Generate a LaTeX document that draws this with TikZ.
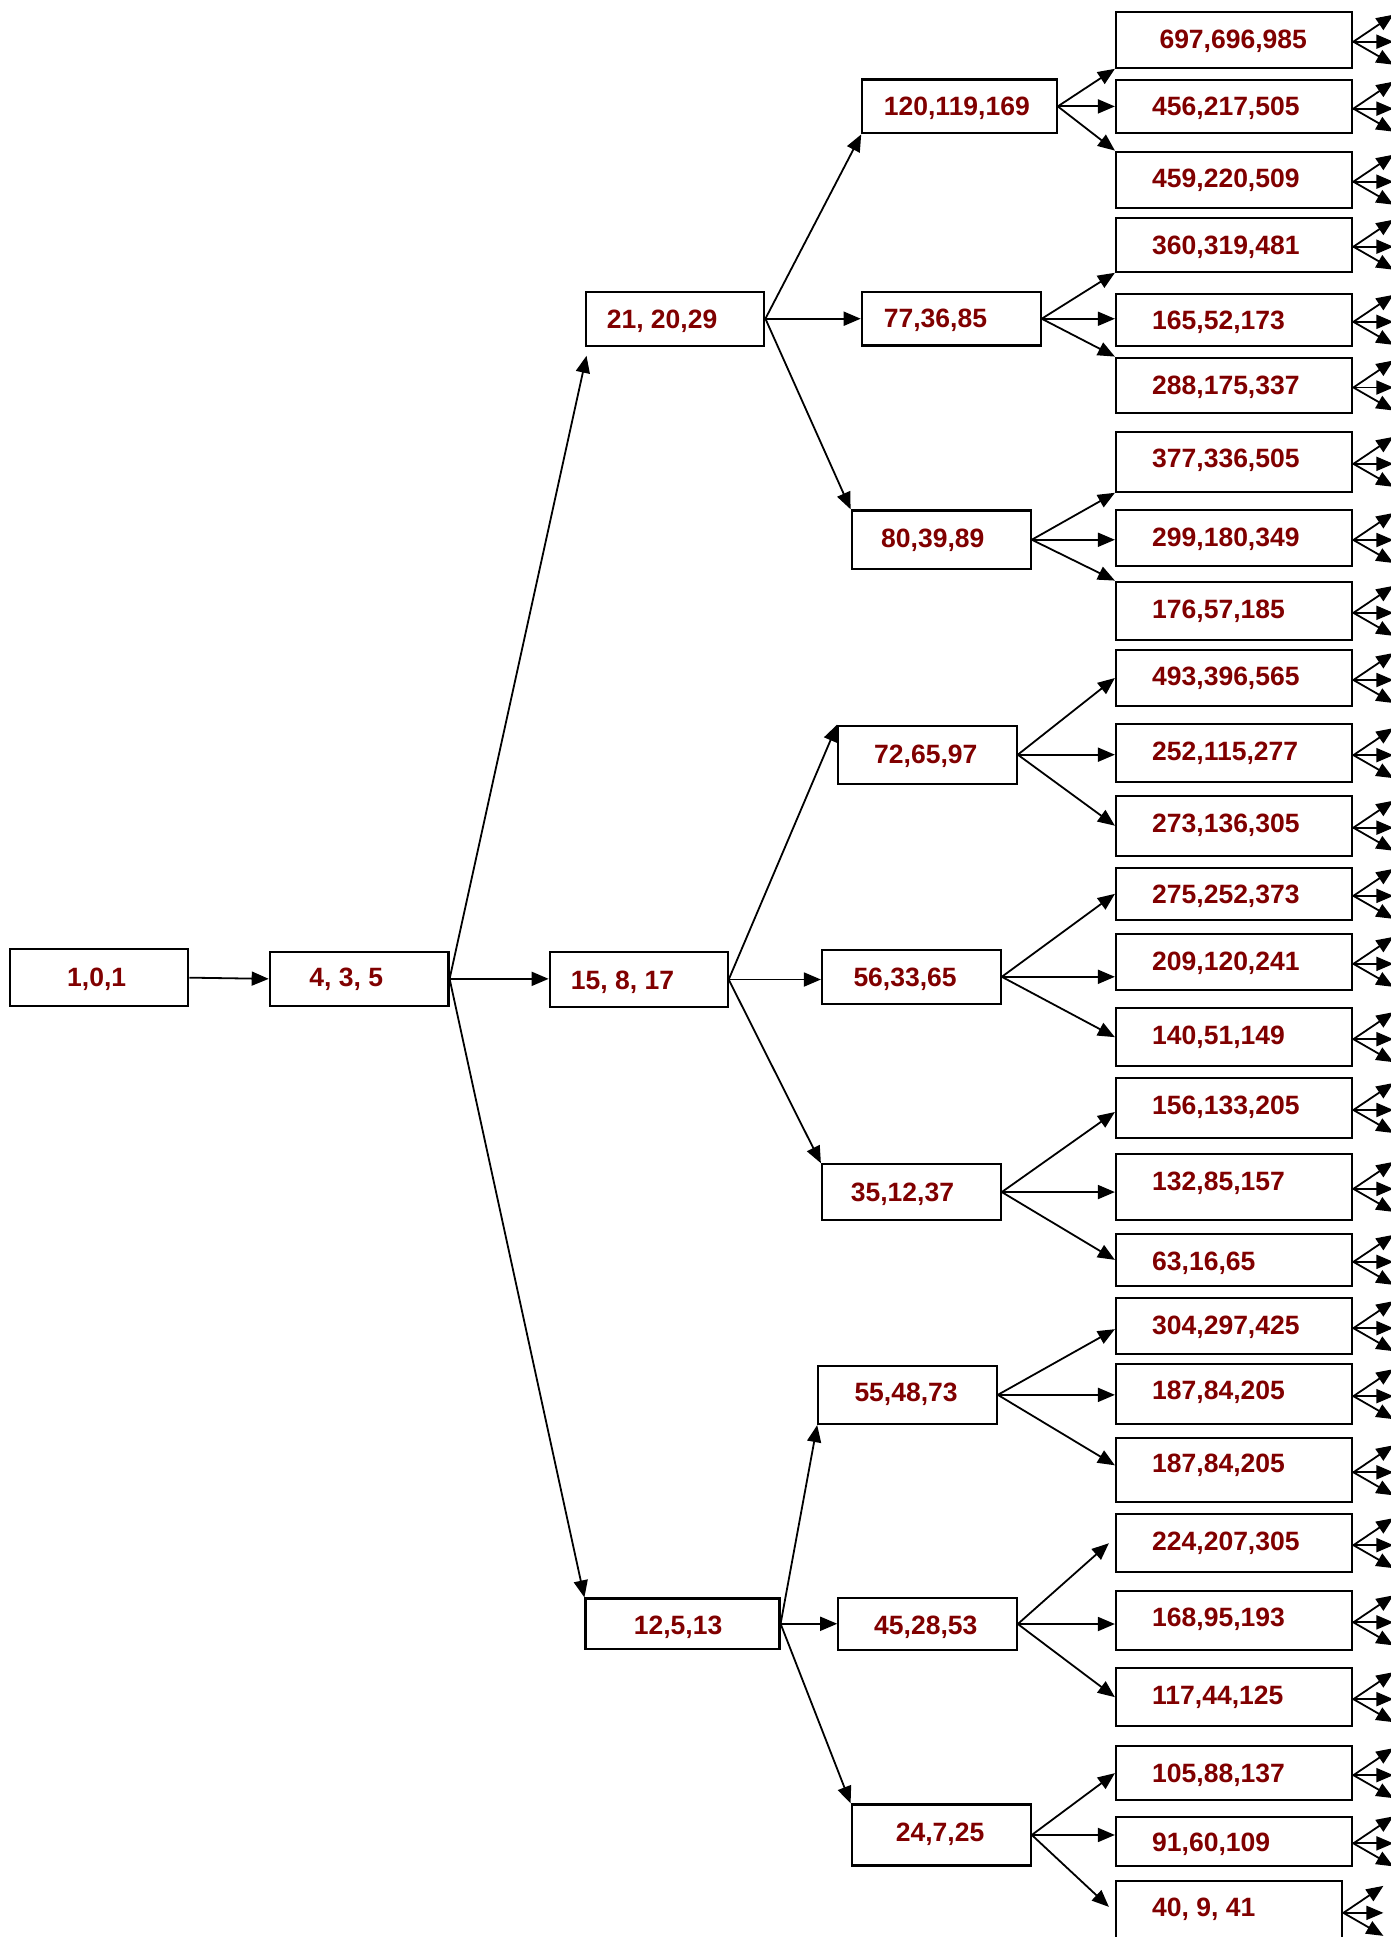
\documentclass[tikz,border=0pt]{standalone}
\usepackage{fontspec}
\setmainfont{Liberation Sans}
\usetikzlibrary{arrows.meta,calc}
\definecolor{numred}{RGB}{128,0,0}
\tikzset{
  box/.style={draw=black, line width=2.2pt, inner sep=0pt, rectangle},
  lbl/.style={text=numred, font=\fontsize{26.5}{30}\selectfont\bfseries, inner sep=0pt, anchor=base west},
  arr/.style={line width=1.8pt, -{Triangle[length=17pt,width=14pt]}},
}
% box from its corners: name, x1, y1, x2, y2
\newcommand\bx[5]{\node[box, minimum width={(#4)-(#2)}, minimum height={(#5)-(#3)}] (#1) at ({((#2)+(#4))/2},{((#3)+(#5))/2}) {};}
% label at its baseline start: name, x, y, text
\newcommand\tx[4]{\node[lbl] (#1) at (#2,#3) {#4};}
% three-way fan from a parent to its children
\newcommand\fan[4]{\draw[arr] (#1.east) -- (#2); \draw[arr] (#1.east) -- (#1.east -| #3.west); \draw[arr] (#1.east) -- (#4);}
\begin{document}
\begin{tikzpicture}[x=1pt,y=-1pt]
\fill[white] (0,0) rectangle (1391,1937);
\useasboundingbox (0,0) rectangle (1391,1937);

% root and first step
\bx{r}{9.6}{949.3}{188.3}{1006}
\bx{s}{269.8}{951.7}{448.5}{1006}
% second level
\bx{u}{585.6}{291.7}{764.3}{345.7}
\bx{m}{549.7}{952}{727.6}{1007}
\bx{d}{585.5}{1598.5}{779.5}{1649}
% third level
\bx{u1}{862.3}{79.5}{1056.7}{133.3}
\bx{u2}{861.8}{292}{1040.6}{345.5}
\bx{u3}{851.7}{510.4}{1030.7}{569.1}
\bx{m1}{838.3}{725.6}{1016.7}{783.8}
\bx{m2}{822}{949.6}{1000.7}{1004}
\bx{m3}{822}{1164.3}{1000.7}{1219.8}
\bx{d1}{818.3}{1365.7}{996.7}{1424}
\bx{d2}{838.3}{1597.8}{1016.7}{1650.2}
\bx{d3}{851.7}{1804.4}{1030.7}{1865.5}
% fourth level
\bx{u1a}{1116}{11.7}{1352.3}{67.7}
\bx{u1b}{1116}{80}{1352.3}{133.3}
\bx{u1c}{1116}{151.7}{1352.3}{207.7}
\bx{u2a}{1116}{217.7}{1352.3}{271.7}
\bx{u2b}{1116}{294}{1352.3}{345.7}
\bx{u2c}{1116}{357.7}{1352.3}{413.3}
\bx{u3a}{1116}{432}{1352.3}{491.7}
\bx{u3b}{1116}{510}{1352.3}{566}
\bx{u3c}{1116}{581.7}{1352.3}{640}
\bx{m1a}{1116}{650}{1352.3}{706}
\bx{m1b}{1116}{724.3}{1352.3}{782}
\bx{m1c}{1116}{795.7}{1352.3}{855.7}
\bx{m2a}{1116}{867.7}{1352.3}{920}
\bx{m2b}{1116}{933.7}{1352.3}{990}
\bx{m2c}{1116}{1008.3}{1352.3}{1066}
\bx{m3a}{1116}{1078.3}{1352.3}{1137.7}
\bx{m3b}{1116}{1153.7}{1352.3}{1220}
\bx{m3c}{1116}{1234}{1352.3}{1285.7}
\bx{d1a}{1116}{1298.3}{1352.3}{1354}
\bx{d1b}{1116}{1364}{1352.3}{1424.3}
\bx{d1c}{1116}{1438.3}{1352.3}{1502.3}
\bx{d2a}{1116}{1514}{1352.3}{1572.3}
\bx{d2b}{1116}{1590.7}{1352.3}{1650}
\bx{d2c}{1116}{1668.3}{1352.3}{1726}
\bx{d3a}{1116}{1746.3}{1352.3}{1800}
\bx{d3b}{1116}{1816.7}{1352.3}{1866}
\bx{d3c}{1116}{1880.7}{1342.3}{1941}

% labels
\tx{r-t}{67}{986.7}{1,0,1}
\tx{s-t}{309.2}{986.7}{4, 3, 5}
\tx{u-t}{606.6}{328.3}{21, 20,29}
\tx{m-t}{570.7}{989}{15, 8, 17}
\tx{d-t}{633.7}{1634}{12,5,13}
\tx{u1-t}{883.7}{115.7}{120,119,169}
\tx{u2-t}{883.7}{327.7}{77,36,85}
\tx{u3-t}{881}{547}{80,39,89}
\tx{m1-t}{874}{763}{72,65,97}
\tx{m2-t}{853.3}{986}{56,33,65}
\tx{m3-t}{850.7}{1201}{35,12,37}
\tx{d1-t}{854.3}{1401.7}{55,48,73}
\tx{d2-t}{874}{1634.5}{45,28,53}
\tx{d3-t}{895.7}{1841}{24,7,25}
\tx{u1a-t}{1159.3}{48.3}{697,696,985}
\tx{u1b-t}{1152}{116}{456,217,505}
\tx{u1c-t}{1152}{187.7}{459,220,509}
\tx{u2a-t}{1152}{254}{360,319,481}
\tx{u2b-t}{1152}{329}{165,52,173}
\tx{u2c-t}{1152}{394.3}{288,175,337}
\tx{u3a-t}{1152}{467.7}{377,336,505}
\tx{u3b-t}{1152}{546}{299,180,349}
\tx{u3c-t}{1152}{618.3}{176,57,185}
\tx{m1a-t}{1152}{685.7}{493,396,565}
\tx{m1b-t}{1152}{760.7}{252,115,277}
\tx{m1c-t}{1152}{832.3}{273,136,305}
\tx{m2a-t}{1152}{903.7}{275,252,373}
\tx{m2b-t}{1152}{970}{209,120,241}
\tx{m2c-t}{1152}{1044.3}{140,51,149}
\tx{m3a-t}{1152}{1114}{156,133,205}
\tx{m3b-t}{1152}{1190}{132,85,157}
\tx{m3c-t}{1152}{1270}{63,16,65}
\tx{d1a-t}{1152}{1334}{304,297,425}
\tx{d1b-t}{1152}{1399.3}{187,84,205}
\tx{d1c-t}{1152}{1472.7}{187,84,205}
\tx{d2a-t}{1152}{1550.3}{224,207,305}
\tx{d2b-t}{1152}{1626}{168,95,193}
\tx{d2c-t}{1152}{1704}{117,44,125}
\tx{d3a-t}{1152}{1782.3}{105,88,137}
\tx{d3b-t}{1152}{1851.7}{91,60,109}
\tx{d3c-t}{1152}{1916.7}{40, 9, 41}

% connectors
\draw[arr] (r.east) -- (s.west);
\fan{s}{[xshift=2pt,yshift=-9pt]u.south west}{m}{d.north west}
\fan{u}{u1.south west}{u2}{u3.north west}
\fan{m}{m1.north west}{m2}{m3.north west}
\fan{d}{d1.south west}{d2}{d3.north west}
\fan{u1}{u1a.south west}{u1b}{u1c.north west}
\fan{u2}{u2a.south west}{u2b}{u2c.north west}
\fan{u3}{u3a.south west}{u3b}{u3c.north west}
\fan{m1}{m1a.west}{m1b}{m1c.west}
\fan{m2}{m2a.west}{m2b}{m2c.west}
\fan{m3}{[yshift=-4pt]m3a.west}{m3b}{m3c.west}
\fan{d1}{[yshift=-3pt]d1a.west}{d1b}{[yshift=5pt]d1c.west}
\fan{d2}{[xshift=-6pt]d2a.west}{d2b}{d2c.west}
\fan{d3}{d3a.west}{d3b}{[xshift=-6pt,yshift=4pt]d3c.west}

% onward fans leaving every leaf
\foreach \n in {u1a,u1b,u1c,u2a,u2b,u2c,u3a,u3b,u3c,m1a,m1b,m1c,m2a,m2b,m2c,m3a,m3b,m3c,d1a,d1b,d1c,d2a,d2b,d2c,d3a,d3b,d3c}{
  \coordinate (\n-o1) at ($([yshift=-2pt]\n.east)+(40,-27)$);
  \coordinate (\n-o2) at ($([yshift=-2pt]\n.east)+(40,0)$);
  \coordinate (\n-o3) at ($([yshift=-2pt]\n.east)+(40,23)$);
  \draw[arr] ([yshift=-2pt]\n.east) -- (\n-o1);
  \draw[arr] ([yshift=-2pt]\n.east) -- (\n-o2);
  \draw[arr] ([yshift=-2pt]\n.east) -- (\n-o3);
}
\end{tikzpicture}
\end{document}
